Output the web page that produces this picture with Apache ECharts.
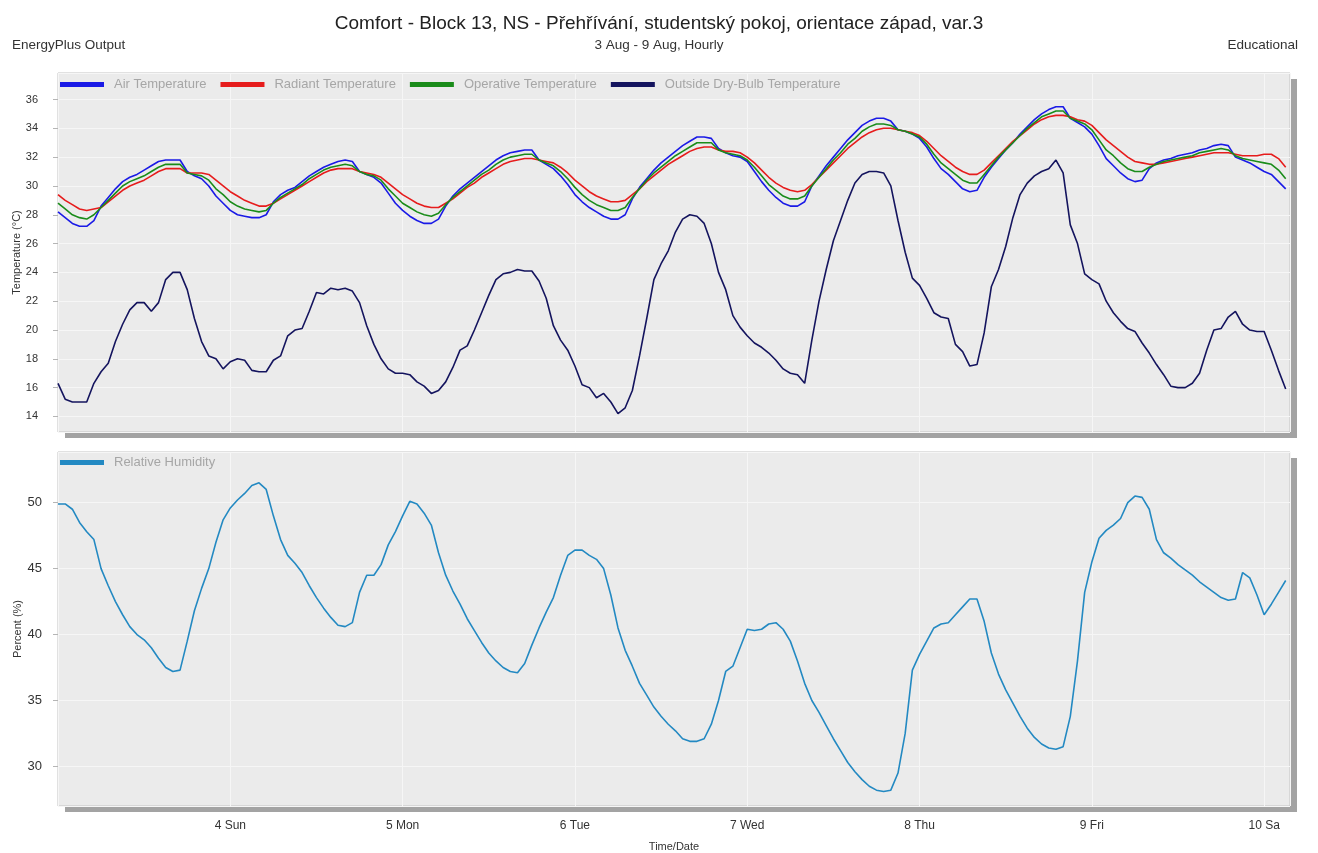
<!DOCTYPE html>
<html>
<head>
<meta charset="utf-8">
<title>Comfort - Block 13</title>
<script src="https://cdn.jsdelivr.net/npm/echarts@6/dist/echarts.min.js"></script>
<style>
  html, body { margin: 0; padding: 0; background: #ffffff; }
  #chart { width: 1318px; height: 853px; }
</style>
</head>
<body>
<div id="chart"></div>
<script>
// Hourly values, 3 Aug 00:00 onwards (one value per hour)
const dayLabels = ['', '4 Sun', '5 Mon', '6 Tue', '7 Wed', '8 Thu', '9 Fri', '10 Sa'];

const airTemp = [
  28.2, 27.8, 27.4, 27.2, 27.2, 27.6, 28.6, 29.2, 29.8, 30.3, 30.6, 30.8, 31.1, 31.4, 31.7, 31.8, 31.8, 31.8, 31.0, 30.7, 30.5, 30.0, 29.3, 28.8,
  28.3, 28.0, 27.9, 27.8, 27.8, 28.0, 28.9, 29.4, 29.7, 29.9, 30.3, 30.7, 31.0, 31.3, 31.5, 31.7, 31.8, 31.7, 31.0, 30.8, 30.6, 30.2, 29.5, 28.8,
  28.3, 27.9, 27.6, 27.4, 27.4, 27.7, 28.6, 29.3, 29.8, 30.2, 30.6, 31.0, 31.4, 31.8, 32.1, 32.3, 32.4, 32.5, 32.5, 31.8, 31.5, 31.2, 30.7, 30.1,
  29.4, 28.9, 28.5, 28.2, 27.9, 27.7, 27.7, 28.0, 29.1, 29.9, 30.5, 31.1, 31.6, 32.0, 32.4, 32.8, 33.1, 33.4, 33.4, 33.3, 32.6, 32.3, 32.1, 32.0,
  31.7, 31.0, 30.3, 29.7, 29.2, 28.8, 28.6, 28.6, 28.9, 30.0, 30.7, 31.4, 32.0, 32.6, 33.2, 33.7, 34.2, 34.5, 34.7, 34.7, 34.5, 33.9, 33.8, 33.6,
  33.3, 32.7, 31.9, 31.2, 30.8, 30.3, 29.8, 29.6, 29.7, 30.6, 31.3, 31.9, 32.5, 33.0, 33.6, 34.1, 34.6, 35.0, 35.3, 35.5, 35.5, 34.7, 34.4, 34.1,
  33.6, 32.8, 31.9, 31.4, 30.9, 30.5, 30.3, 30.4, 31.2, 31.6, 31.8, 31.9, 32.1, 32.2, 32.3, 32.5, 32.6, 32.8, 32.9, 32.8, 32.0, 31.8, 31.6, 31.3,
  31.0, 30.8, 30.3, 29.8
];

const radiantTemp = [
  29.4, 29.0, 28.7, 28.4, 28.3, 28.4, 28.5, 28.9, 29.3, 29.7, 30.0, 30.2, 30.4, 30.7, 31.0, 31.2, 31.2, 31.2, 30.9, 30.9, 30.9, 30.8, 30.4, 30.0,
  29.6, 29.3, 29.0, 28.8, 28.6, 28.6, 28.8, 29.1, 29.4, 29.7, 30.0, 30.3, 30.6, 30.9, 31.1, 31.2, 31.2, 31.2, 31.0, 30.9, 30.8, 30.6, 30.2, 29.8,
  29.4, 29.1, 28.8, 28.6, 28.5, 28.5, 28.8, 29.1, 29.5, 29.9, 30.2, 30.6, 30.9, 31.2, 31.5, 31.7, 31.8, 31.9, 31.9, 31.8, 31.7, 31.6, 31.3, 30.9,
  30.4, 30.0, 29.6, 29.3, 29.1, 28.9, 28.9, 29.0, 29.4, 29.8, 30.3, 30.7, 31.1, 31.5, 31.8, 32.1, 32.4, 32.6, 32.7, 32.7, 32.5, 32.4, 32.4, 32.3,
  32.0, 31.6, 31.1, 30.6, 30.2, 29.9, 29.7, 29.6, 29.7, 30.1, 30.6, 31.1, 31.6, 32.1, 32.6, 33.0, 33.4, 33.7, 33.9, 34.0, 34.0, 33.9, 33.8, 33.7,
  33.5, 33.1, 32.6, 32.1, 31.7, 31.3, 31.0, 30.8, 30.8, 31.1, 31.6, 32.1, 32.6, 33.1, 33.5, 33.9, 34.3, 34.6, 34.8, 34.9, 34.9, 34.8, 34.6, 34.5,
  34.2, 33.7, 33.2, 32.8, 32.4, 32.0, 31.7, 31.6, 31.5, 31.5, 31.6, 31.7, 31.8, 31.9, 32.0, 32.1, 32.2, 32.3, 32.3, 32.3, 32.2, 32.1, 32.1, 32.1,
  32.2, 32.2, 31.9, 31.3
];

const operativeTemp = [
  28.8, 28.4, 28.0, 27.8, 27.7, 28.0, 28.5, 29.0, 29.5, 30.0, 30.3, 30.5, 30.7, 31.0, 31.3, 31.5, 31.5, 31.5, 30.9, 30.8, 30.7, 30.4, 29.8, 29.4,
  28.9, 28.6, 28.4, 28.3, 28.2, 28.3, 28.8, 29.2, 29.5, 29.8, 30.1, 30.5, 30.8, 31.1, 31.3, 31.4, 31.5, 31.4, 31.0, 30.8, 30.7, 30.4, 29.8, 29.3,
  28.8, 28.5, 28.2, 28.0, 27.9, 28.1, 28.7, 29.2, 29.6, 30.0, 30.4, 30.8, 31.1, 31.5, 31.8, 32.0, 32.1, 32.2, 32.2, 31.8, 31.6, 31.4, 31.0, 30.5,
  29.9, 29.4, 29.0, 28.7, 28.5, 28.3, 28.3, 28.5, 29.2, 29.8, 30.4, 30.9, 31.3, 31.7, 32.1, 32.4, 32.7, 33.0, 33.0, 33.0, 32.5, 32.3, 32.2, 32.1,
  31.8, 31.3, 30.7, 30.1, 29.7, 29.3, 29.1, 29.1, 29.3, 30.0, 30.6, 31.2, 31.8, 32.3, 32.9, 33.3, 33.8, 34.1, 34.3, 34.3, 34.2, 33.9, 33.8, 33.6,
  33.4, 32.9, 32.2, 31.6, 31.2, 30.8, 30.4, 30.2, 30.2, 30.8, 31.4, 32.0, 32.5, 33.0, 33.5, 34.0, 34.4, 34.8, 35.0, 35.2, 35.2, 34.7, 34.5, 34.3,
  33.9, 33.2, 32.5, 32.1, 31.6, 31.2, 31.0, 31.0, 31.3, 31.5, 31.7, 31.8, 31.9, 32.0, 32.1, 32.3, 32.4, 32.5, 32.6, 32.5, 32.1, 31.9, 31.8, 31.7,
  31.6, 31.5, 31.1, 30.5
];

const outsideTemp = [
  16.3, 15.2, 15.0, 15.0, 15.0, 16.3, 17.1, 17.7, 19.2, 20.4, 21.4, 21.9, 21.9, 21.3, 21.9, 23.5, 24.0, 24.0, 22.8, 20.8, 19.2, 18.2, 18.0, 17.3,
  17.8, 18.0, 17.9, 17.2, 17.1, 17.1, 17.9, 18.2, 19.6, 20.0, 20.1, 21.3, 22.6, 22.5, 22.9, 22.8, 22.9, 22.7, 21.9, 20.3, 19.0, 18.0, 17.3, 17.0,
  17.0, 16.9, 16.4, 16.1, 15.6, 15.8, 16.4, 17.4, 18.6, 18.9, 20.0, 21.2, 22.4, 23.5, 23.9, 24.0, 24.2, 24.1, 24.1, 23.4, 22.2, 20.3, 19.3, 18.6,
  17.5, 16.2, 16.0, 15.3, 15.6, 15.0, 14.2, 14.6, 15.8, 18.2, 20.8, 23.5, 24.6, 25.5, 26.8, 27.7, 28.0, 27.9, 27.4, 26.0, 24.0, 22.8, 21.0, 20.2,
  19.6, 19.1, 18.8, 18.4, 17.9, 17.3, 17.0, 16.9, 16.3, 19.3, 22.0, 24.2, 26.2, 27.6, 29.0, 30.2, 30.8, 31.0, 31.0, 30.9, 30.0, 27.6, 25.4, 23.6,
  23.1, 22.2, 21.2, 20.9, 20.8, 19.0, 18.5, 17.5, 17.6, 19.8, 23.0, 24.2, 25.8, 27.8, 29.4, 30.2, 30.7, 31.0, 31.2, 31.8, 30.9, 27.3, 26.0, 23.9,
  23.5, 23.2, 22.0, 21.2, 20.6, 20.1, 19.9, 19.1, 18.4, 17.6, 16.9, 16.1, 16.0, 16.0, 16.3, 17.0, 18.6, 20.0, 20.1, 20.9, 21.3, 20.4, 20.0, 19.9,
  19.9, 18.6, 17.2, 15.9
];

const relHumidity = [
  49.9, 49.9, 49.5, 48.5, 47.8, 47.2, 45.0, 43.7, 42.5, 41.5, 40.6, 40.0, 39.6, 39.0, 38.2, 37.5, 37.2, 37.3, 39.5, 41.8, 43.5, 45.0, 47.0, 48.7,
  49.6, 50.2, 50.7, 51.3, 51.5, 51.0, 49.0, 47.2, 46.0, 45.4, 44.7, 43.7, 42.8, 42.0, 41.3, 40.7, 40.6, 40.9, 43.2, 44.5, 44.5, 45.3, 46.8, 47.8,
  49.0, 50.1, 49.9, 49.2, 48.3, 46.2, 44.5, 43.3, 42.3, 41.2, 40.3, 39.4, 38.6, 38.0, 37.5, 37.2, 37.1, 37.8, 39.2, 40.5, 41.7, 42.8, 44.5, 46.0,
  46.4, 46.4, 46.0, 45.7, 45.0, 43.0, 40.5, 38.8, 37.6, 36.3, 35.4, 34.5, 33.8, 33.2, 32.7, 32.1, 31.9, 31.9, 32.1, 33.2, 35.0, 37.2, 37.6, 39.0,
  40.4, 40.3, 40.4, 40.8, 40.9, 40.4, 39.5, 38.0, 36.3, 35.0, 34.1, 33.1, 32.1, 31.2, 30.3, 29.6, 29.0, 28.5, 28.2, 28.1, 28.2, 29.5, 32.5, 37.3,
  38.5, 39.5, 40.5, 40.8, 40.9, 41.5, 42.1, 42.7, 42.7, 41.0, 38.6, 37.0, 35.8, 34.8, 33.8, 32.9, 32.2, 31.7, 31.4, 31.3, 31.5, 33.8, 38.0, 43.2,
  45.5, 47.3, 47.9, 48.3, 48.8, 50.0, 50.5, 50.4, 49.5, 47.2, 46.2, 45.8, 45.3, 44.9, 44.5, 44.0, 43.6, 43.2, 42.8, 42.6, 42.7, 44.7, 44.3, 43.0,
  41.5, 42.3, 43.2, 44.1
];

// pair each hourly value with its hour offset for the value-type x axis
const withHours = arr => arr.map((v, i) => [i, v]);

const chart = echarts.init(document.getElementById('chart'), null, { renderer: 'canvas' });

const FONT = 'Liberation Sans, Arial, sans-serif';
const plotBg = '#ebebeb';

// panel layout: [top, height]
const panels = [[73, 359], [452, 354]];

// filled panels carry the drop shadow; outline panels on top carry the thin frame
const fillGrids = panels.map(([top, height]) => ({
  show: true, left: 58, right: 28, top, height,
  outerBoundsMode: 'none',
  containLabel: false,
  backgroundColor: plotBg,
  borderWidth: 0,
  shadowColor: '#a3a3a3',
  shadowBlur: 0,
  shadowOffsetX: 7,
  shadowOffsetY: 6
}));
const frameGrids = panels.map(([top, height]) => ({
  show: true, left: 58, right: 28, top, height,
  outerBoundsMode: 'none',
  containLabel: false,
  backgroundColor: 'transparent',
  borderColor: '#c2c2c2',
  borderWidth: 1
}));

const xBase = {
  type: 'value',
  min: 0,
  max: 171.6,
  interval: 24,
  axisLine: { show: false },
  axisTick: { show: false },
  splitLine: { show: true, lineStyle: { color: '#f6f6f6', width: 1 } }
};

const hiddenAxis = gi => ({ type: 'value', gridIndex: gi, show: false, min: 0, max: 1, splitLine: { show: false } });

const lineSeries = (name, data, color, xi, yi) => ({
  name,
  type: 'line',
  xAxisIndex: xi,
  yAxisIndex: yi,
  data: withHours(data),
  showSymbol: false,
  symbol: 'none',
  lineStyle: { color, width: 1.6 },
  itemStyle: { color },
  emphasis: { disabled: true },
  z: 3
});

const legendText = { fontFamily: FONT, fontSize: 13, color: '#a6a6a6', padding: [0, 0, 0, 5] };

const option = {
  animation: false,
  backgroundColor: '#ffffff',
  textStyle: { fontFamily: FONT },
  title: [
    {
      text: 'Comfort - Block 13, NS - Přehřívání, studentský pokoj, orientace západ, var.3',
      left: 'center', top: 9,
      textStyle: { fontFamily: FONT, fontSize: 19, fontWeight: 'normal', color: '#222222' }
    },
    {
      text: '3 Aug - 9 Aug, Hourly',
      left: 'center', top: 33,
      textStyle: { fontFamily: FONT, fontSize: 13.5, fontWeight: 'normal', color: '#333333' }
    },
    {
      text: 'EnergyPlus Output',
      left: 7, top: 33,
      textStyle: { fontFamily: FONT, fontSize: 13.5, fontWeight: 'normal', color: '#333333' }
    },
    {
      text: 'Educational',
      right: 15, top: 33,
      textStyle: { fontFamily: FONT, fontSize: 13.5, fontWeight: 'normal', color: '#333333' }
    }
  ],
  legend: [
    {
      left: 55, top: 73,
      icon: 'rect',
      itemWidth: 44, itemHeight: 5,
      itemGap: 14,
      textStyle: legendText,
      data: ['Air Temperature', 'Radiant Temperature', 'Operative Temperature', 'Outside Dry-Bulb Temperature'],
      selectedMode: false
    },
    {
      left: 55, top: 451,
      icon: 'rect',
      itemWidth: 44, itemHeight: 5,
      textStyle: legendText,
      data: ['Relative Humidity'],
      selectedMode: false
    }
  ],
  grid: fillGrids.concat(frameGrids),
  xAxis: [
    Object.assign({}, xBase, { gridIndex: 0, axisLabel: { show: false } }),
    Object.assign({}, xBase, {
      gridIndex: 1,
      name: 'Time/Date',
      nameLocation: 'middle',
      nameGap: 35,
      nameMoveOverlap: false,
      nameTextStyle: { fontFamily: FONT, fontSize: 11, color: '#333333' },
      axisLabel: {
        show: true,
        margin: 14,
        fontFamily: FONT,
        fontSize: 12,
        color: '#333333',
        showMaxLabel: false,
        formatter: v => dayLabels[Math.round(v / 24)] || ''
      }
    }),
    hiddenAxis(2),
    hiddenAxis(3)
  ],
  yAxis: [
    {
      type: 'value', gridIndex: 0,
      min: 12.92, max: 37.84,
      minInterval: 2, maxInterval: 2,
      name: 'Temperature (°C)',
      nameLocation: 'middle',
      nameRotate: 90,
      nameGap: 36,
      nameMoveOverlap: false,
      nameTextStyle: { fontFamily: FONT, fontSize: 11, color: '#333333' },
      axisLine: { show: false },
      axisTick: { show: true, length: 5, lineStyle: { color: '#b5b5b5' } },
      axisLabel: { margin: 20, fontFamily: FONT, fontSize: 11, color: '#333333', showMinLabel: false, showMaxLabel: false },
      splitLine: { show: true, lineStyle: { color: '#f6f6f6', width: 1 } }
    },
    {
      type: 'value', gridIndex: 1,
      min: 27.0, max: 53.84,
      minInterval: 5, maxInterval: 5,
      name: 'Percent (%)',
      nameLocation: 'middle',
      nameRotate: 90,
      nameGap: 35,
      nameMoveOverlap: false,
      nameTextStyle: { fontFamily: FONT, fontSize: 11, color: '#333333' },
      axisLine: { show: false },
      axisTick: { show: true, length: 5, lineStyle: { color: '#b5b5b5' } },
      axisLabel: { margin: 16, fontFamily: FONT, fontSize: 13, color: '#333333', showMinLabel: false, showMaxLabel: false },
      splitLine: { show: true, lineStyle: { color: '#f6f6f6', width: 1 } }
    },
    hiddenAxis(2),
    hiddenAxis(3)
  ],
  series: [
    lineSeries('Air Temperature', airTemp, '#1a1ae6', 0, 0),
    lineSeries('Radiant Temperature', radiantTemp, '#e61c1c', 0, 0),
    lineSeries('Operative Temperature', operativeTemp, '#1a8c1a', 0, 0),
    lineSeries('Outside Dry-Bulb Temperature', outsideTemp, '#14145e', 0, 0),
    lineSeries('Relative Humidity', relHumidity, '#2389c2', 1, 1)
  ]
};

chart.setOption(option);
</script>
</body>
</html>
